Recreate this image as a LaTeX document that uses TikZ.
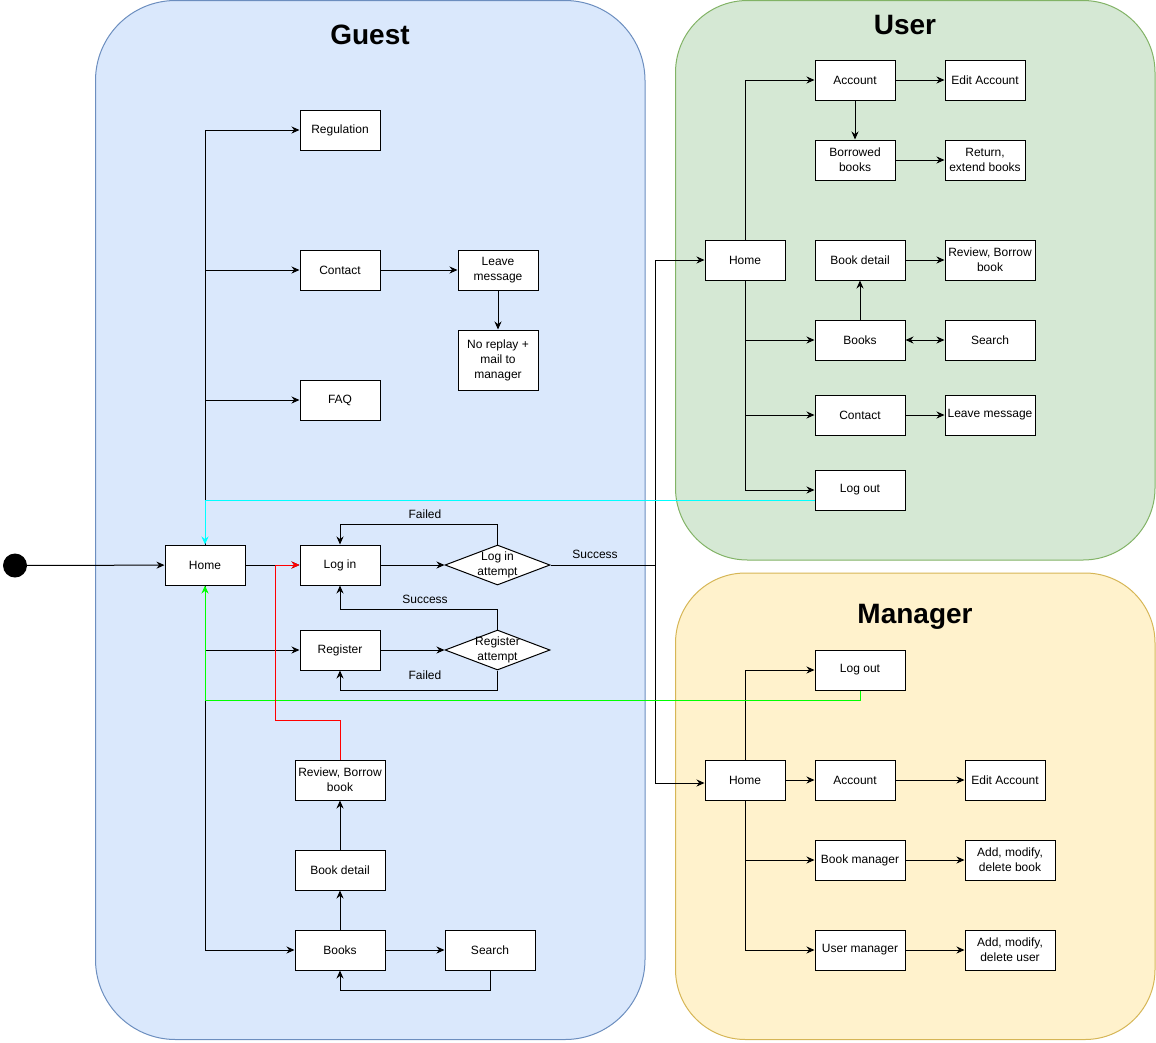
\documentclass[tikz,border=0pt]{standalone}
\usepackage{fontspec}
\setmainfont{Liberation Sans}
\usetikzlibrary{arrows.meta,shapes.geometric,calc}
\definecolor{guestfill}{HTML}{DAE8FC}
\definecolor{guestline}{HTML}{6C8EBF}
\definecolor{userfill}{HTML}{D5E8D4}
\definecolor{userline}{HTML}{82B366}
\definecolor{mgrfill}{HTML}{FFF2CC}
\definecolor{mgrline}{HTML}{D6B656}
\definecolor{cyanline}{HTML}{00FFFF}
\definecolor{greenline}{HTML}{00FF00}
\definecolor{redline}{HTML}{FF0000}
\begin{document}
\begin{tikzpicture}[x=1pt,y=-1pt,
  box/.style={draw=black, fill=white, line width=1pt, minimum width=80pt, minimum height=40pt,
    inner sep=1pt, align=center, font=\fontsize{12}{15}\selectfont},
  wbox/.style={box, minimum width=90pt},
  dia/.style={diamond, draw=black, fill=white, line width=1pt, minimum width=105pt,
    minimum height=40pt, inner sep=0pt},
  lbl/.style={font=\fontsize{12}{15}\selectfont, align=center, inner sep=0pt},
  ttl/.style={font=\fontsize{28}{32}\selectfont\bfseries, inner sep=0pt},
  line/.style={line width=1pt},
  arr/.style={line width=1pt, -{Stealth[length=8pt,width=7pt]}},
  biarr/.style={line width=1pt, {Stealth[length=8pt,width=7pt]}-{Stealth[length=8pt,width=7pt]}},
  container/.style={line width=1pt}
]
\useasboundingbox (0,0) rectangle (1156,1042);

% containers
\draw[container, fill=guestfill, draw=guestline, rounded corners=80pt] (95.5,0.5) rectangle (645,1039.5);
\draw[container, fill=userfill, draw=userline, rounded corners=72pt] (675.5,0.5) rectangle (1155,560);
\draw[container, fill=mgrfill, draw=mgrline, rounded corners=70pt] (675.5,573) rectangle (1155,1039.5);
\node[ttl] (tguest) at (370,35) {Guest};
\node[ttl] (tuser) at (905,25) {User};
\node[ttl] (tmgr) at (915,617) {Manager};

% ---------------- Guest nodes
\node[circle, fill=black, minimum size=24pt, inner sep=0pt] (start) at (15,565.5) {};
\node[box] (ghome) at (205,565) {Home};
\node[box] (reg) at (340,130) {Regulation};
\node[box] (gcontact) at (340,270) {Contact};
\node[box] (gleave) at (498,270) {Leave\\message};
\node[box, minimum height=60pt] (noreply) at (498,360) {No replay +\\mail to\\manager};
\node[box] (faq) at (340,400) {FAQ};
\node[box] (login) at (340,565) {Log in};
\node[dia] (la) at (497.5,565) {};
\node[lbl] (latext) at (497.5,565) {Log in\\attempt};
\node[box] (register) at (340,650) {Register};
\node[dia] (ra) at (497.5,650) {};
\node[lbl] (ratext) at (497.5,650) {Register\\attempt};
\node[wbox] (greview) at (340,780) {Review, Borrow\\book};
\node[wbox] (gdetail) at (340,870) {Book detail};
\node[wbox] (gbooks) at (340,950) {Books};
\node[wbox] (gsearch) at (490,950) {Search};

% ---------------- User nodes
\node[box] (uhome) at (745,260) {Home};
\node[box] (uacc) at (855,80) {Account};
\node[box] (uedit) at (985,80) {Edit Account};
\node[box] (uborrowed) at (855,160) {Borrowed\\books};
\node[box] (ureturn) at (985,160) {Return,\\extend books};
\node[wbox] (udetail) at (860,260) {Book detail};
\node[wbox] (ureview) at (990,260) {Review, Borrow\\book};
\node[wbox] (ubooks) at (860,340) {Books};
\node[wbox] (usearch) at (990,340) {Search};
\node[wbox] (ucontact) at (860,415) {Contact};
\node[wbox] (uleave) at (990,415) {Leave message};
\node[wbox] (ulogout) at (860,490) {Log out};

% ---------------- Manager nodes
\node[wbox] (mlogout) at (860,670) {Log out};
\node[box] (mhome) at (745,780) {Home};
\node[box] (macc) at (855,780) {Account};
\node[box] (medit) at (1005,780) {Edit Account};
\node[wbox] (mbm) at (860,860) {Book manager};
\node[wbox] (mbadd) at (1010,860) {Add, modify,\\delete book};
\node[wbox] (mum) at (860,950) {User manager};
\node[wbox] (muadd) at (1010,950) {Add, modify,\\delete user};

% ---------------- Guest connectors
\draw[arr] (start) -- (ghome);
\draw[arr] (ghome.north) |- (reg.west);
\draw[arr] (ghome.north) |- (gcontact.west);
\draw[arr] (ghome.north) |- (faq.west);
\draw[arr] (gcontact) -- (gleave);
\draw[arr] (gleave) -- (noreply);
\draw[arr] (ghome) -- (login);
\draw[arr] (login) -- (la);
\draw[arr] (la.north) -- ++(0,-20) -| (login.north);
\node[lbl] (lfail1) at (425,514) {Failed};
\draw[arr] (ghome.south) |- (register.west);
\draw[arr] (register) -- (ra);
\draw[arr] (ra.north) -- ++(0,-20) -| (login.south);
\node[lbl] (lsucc1) at (425,599) {Success};
\draw[arr] (ra.south) -- ++(0,20) -| (register.south);
\node[lbl] (lfail2) at (425,675) {Failed};
\draw[arr] (ghome.south) |- (gbooks.west);
\draw[arr] (gbooks) -- (gdetail);
\draw[arr] (gdetail) -- (greview);
\draw[arr] (gbooks) -- (gsearch);
\draw[arr] (gsearch.south) -- ++(0,20) -| (gbooks.south);

% success to User / Manager
\coordinate (sx) at (655.5,565);
\draw[line] (la.east) -- (sx);
\node[lbl] (lsucc2) at (595,554) {Success};
\draw[arr] (sx) |- (uhome.west);
\draw[arr] (sx) |- ($(mhome.west)+(0,3)$);

% ---------------- User connectors
\draw[arr] (uhome.north) |- (uacc.west);
\draw[arr] (uacc) -- (uedit);
\draw[arr] (uacc) -- (uborrowed);
\draw[arr] (uborrowed) -- (ureturn);
\draw[arr] (uhome.south) |- (ubooks.west);
\draw[arr] (uhome.south) |- (ucontact.west);
\draw[arr] (uhome.south) |- (ulogout.west);
\draw[arr] (ubooks) -- (udetail);
\draw[arr] (udetail) -- (ureview);
\draw[biarr] (ubooks) -- (usearch);
\draw[arr] (ucontact) -- (uleave);

% ---------------- Manager connectors
\draw[arr] (mhome.north) |- (mlogout.west);
\draw[arr] (mhome) -- (macc);
\draw[arr] (macc) -- (medit);
\draw[arr] (mhome.south) |- (mbm.west);
\draw[arr] (mhome.south) |- (mum.west);
\draw[arr] (mbm) -- (mbadd);
\draw[arr] (mum) -- (muadd);

% ---------------- coloured return paths
\draw[arr, draw=cyanline] ($(ulogout.west)+(0,10)$) -| (ghome.north);
\draw[arr, draw=greenline] (mlogout.south) -- ++(0,10) -| (ghome.south);
\coordinate (rc) at (275,720);
\draw[line, draw=redline] (greview.north) |- (rc);
\draw[arr, draw=redline] (rc) |- (login.west);
\end{tikzpicture}
\end{document}
